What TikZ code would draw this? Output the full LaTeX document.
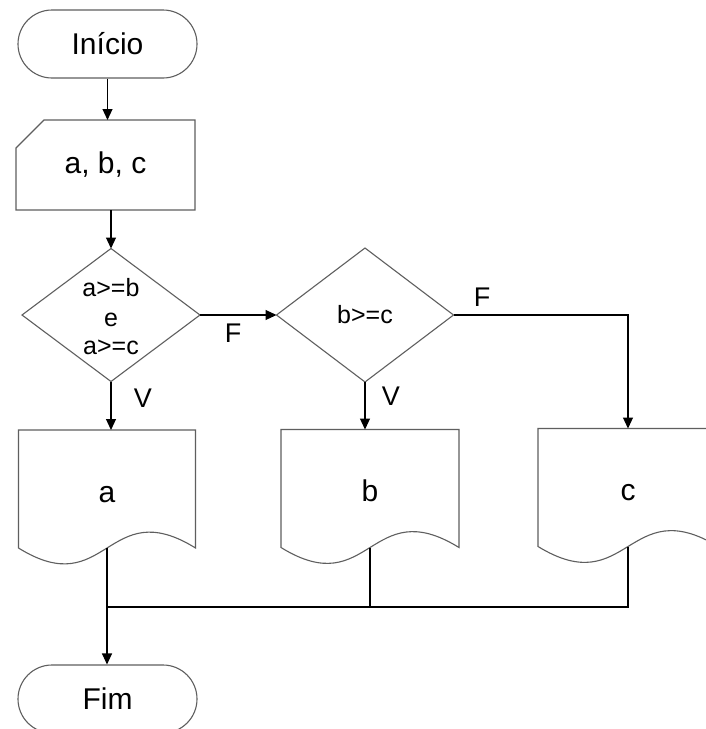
\documentclass[tikz,border=0pt]{standalone}
\usepackage{fontspec}
\setmainfont{Liberation Sans}
\usetikzlibrary{arrows.meta,calc}
\definecolor{shp}{RGB}{95,95,95}
\begin{document}
\begin{tikzpicture}[x=1pt,y=-1pt,
  shapeline/.style={draw=shp,line width=1.1pt},
  conn/.style={draw=black,line width=1.1pt},
  arr/.style={conn,-{Triangle[length=11pt,width=10pt]}},
  bigtxt/.style={font=\fontsize{30}{32}\selectfont},
  term/.style={bigtxt,shapeline,rounded corners=34pt,minimum width=179pt,minimum height=68pt,inner sep=0pt},
  box/.style={inner sep=0pt,outer sep=0pt},
  doc/.style={box,bigtxt,minimum width=177pt,minimum height=118pt,text height=36pt,text depth=10pt},
  dtxt/.style={box,font=\fontsize{25}{29}\selectfont,align=center},
  lbl/.style={inner sep=0pt,font=\fontsize{27}{29}\selectfont}
]
\clip (0,0) rectangle (706,729);
\fill[white] (0,0) rectangle (706,729);

% nodes
\node[term] (ini) at (107.5,44) {Início};
\node[box,bigtxt,minimum width=179pt,minimum height=90pt] (in) at (105.5,165) {a, b, c};
\node[dtxt,minimum width=178pt,minimum height=133pt,text height=78pt,text depth=0pt] (d1) at (111,315) {a>=b\\[1pt]e\\[-1pt]a>=c};
\node[dtxt,minimum width=177pt,minimum height=134pt] (d2) at (365,315) {b>=c};
\node[doc] (da) at (107,489) {a};
\node[doc,minimum width=178pt] (db) at (370,488.5) {b};
\node[doc,minimum width=180pt] (dc) at (628,487.5) {c};
\node[term] (fim) at (107.5,699) {Fim};

% outlines
\draw[shapeline] ($(in.north west)+(28pt,0pt)$) -- (in.north east) -- (in.south east) -- (in.south west) -- ($(in.north west)+(0pt,-28pt)$) -- cycle;
\draw[shapeline] (d1.north) -- (d1.east) -- (d1.south) -- (d1.west) -- cycle;
\draw[shapeline] (d2.north) -- (d2.east) -- (d2.south) -- (d2.west) -- cycle;
\foreach \d in {da,db,dc}{
  \draw[shapeline] (\d.south west) -- (\d.north west) -- (\d.north east) -- (\d.south east)
    .. controls ($(\d.south)+(0pt,55pt)$) and ($(\d.south)+(0pt,-55pt)$) .. (\d.south west) -- cycle;
}

% connectors
\draw[arr] (ini.south) -- (ini.south |- in.north);
\draw[arr] (in.south -| d1.north) -- (d1.north);
\draw[arr] (d1.east) -- (d2.west);
\draw[arr] (d1.south) -- (d1.south |- da.north);
\draw[arr] (d2.south) -- (d2.south |- db.north);
\draw[arr] (d2.east) -| (dc.north);
\coordinate (m) at (108,607);
\draw[conn] (db.south) -- (db.south |- m);
\draw[conn] (dc.south) -- (dc.south |- m) -- (da.south |- m);
\draw[arr] (da.south) -- (da.south |- fim.north);

% labels
\node[lbl] (f1) at (233,333) {F};
\node[lbl] (v1) at (143,398) {V};
\node[lbl] (f2) at (482,297) {F};
\node[lbl] (v2) at (391,396) {V};
\end{tikzpicture}
\end{document}
